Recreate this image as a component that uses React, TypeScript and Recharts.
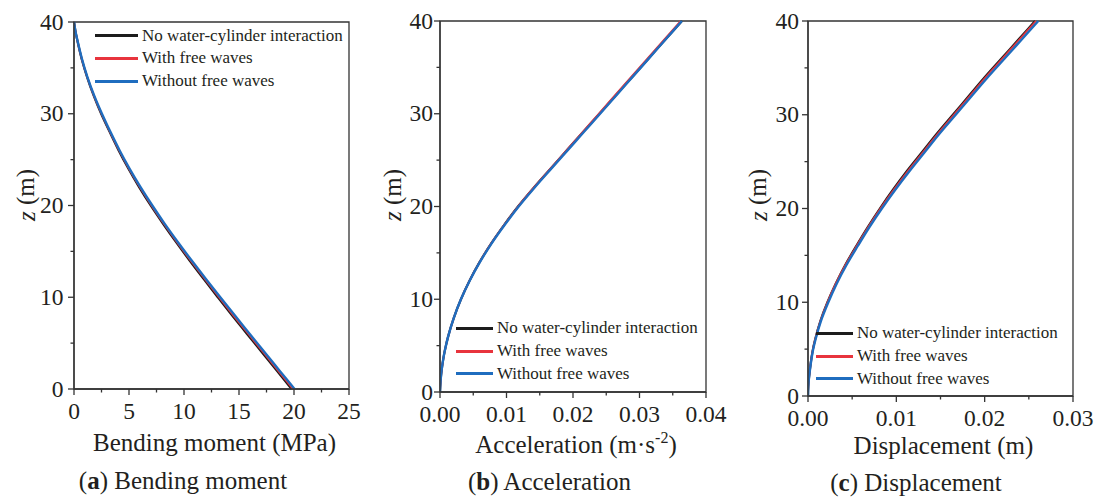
import React from 'react'
import { LineChart, Line, XAxis, YAxis, Legend, ReferenceArea } from 'recharts'

// (a) bending moment, MPa
const zMoment = [0, 2, 4, 6, 8, 10, 12, 14, 16, 18, 20, 22, 24, 26, 28, 30, 32, 34, 36, 38, 39, 40]
const momentNone = [19.78, 18.43, 17.08, 15.73, 14.38, 13.07, 11.78, 10.51, 9.28, 8.1, 6.97, 5.92, 4.95, 4.06, 3.25, 2.47, 1.78, 1.19, 0.69, 0.3, 0.13, 0]
const momentFree = [19.9, 18.55, 17.2, 15.85, 14.5, 13.18, 11.88, 10.6, 9.36, 8.17, 7.04, 5.98, 5.0, 4.1, 3.28, 2.5, 1.8, 1.2, 0.7, 0.3, 0.13, 0]
const momentNoFree = [20.05, 18.69, 17.33, 15.98, 14.63, 13.3, 11.99, 10.7, 9.45, 8.25, 7.12, 6.05, 5.06, 4.15, 3.32, 2.54, 1.83, 1.22, 0.72, 0.31, 0.13, 0]

// (b) acceleration, m/s^2
const zAcc = [0, 1, 2, 3, 4, 5, 6, 8, 10, 12, 14, 16, 18, 20, 22, 24, 26, 28, 30, 32, 34, 36, 38, 40]
const accNone = [0, 0.00007, 0.00019, 0.00037, 0.0006, 0.00089, 0.00123, 0.00208, 0.00315, 0.00444, 0.00595, 0.00768, 0.00963, 0.01173, 0.01407, 0.01653, 0.01901, 0.02149, 0.02397, 0.02645, 0.02893, 0.03141, 0.03389, 0.03637]
const accFree = [0, 0.00007, 0.00019, 0.00037, 0.0006, 0.00089, 0.00123, 0.00208, 0.00315, 0.00444, 0.00595, 0.00768, 0.00963, 0.01173, 0.01405, 0.01649, 0.01895, 0.02141, 0.02387, 0.02633, 0.02879, 0.03125, 0.03371, 0.03617]
const accNoFree = [0, 0.00007, 0.00019, 0.00037, 0.0006, 0.00089, 0.00123, 0.00208, 0.00315, 0.00446, 0.00599, 0.00774, 0.00971, 0.01183, 0.01417, 0.01663, 0.01911, 0.02159, 0.02407, 0.02653, 0.02899, 0.03145, 0.03391, 0.03637]

// (c) displacement, m
const zDisp = [0, 1, 2, 3, 4, 5, 6, 8, 10, 12, 14, 16, 18, 20, 22, 24, 26, 28, 30, 32, 34, 36, 38, 40]
const dispNone = [0, 0.00003, 0.00012, 0.00024, 0.00038, 0.00056, 0.0008, 0.0014, 0.0022, 0.00315, 0.00423, 0.00546, 0.00675, 0.00814, 0.00962, 0.0112, 0.0129, 0.0146, 0.0164, 0.0182, 0.02, 0.0219, 0.0238, 0.0257]
const dispFree = [0, 0.00003, 0.00012, 0.00024, 0.00038, 0.00056, 0.0008, 0.0014, 0.0022, 0.00315, 0.00425, 0.0055, 0.0068, 0.0082, 0.0097, 0.0113, 0.013, 0.0147, 0.0165, 0.0183, 0.0201, 0.022, 0.0239, 0.0258]
const dispNoFree = [0, 0.00003, 0.00012, 0.00025, 0.0004, 0.00059, 0.00084, 0.00146, 0.0023, 0.00326, 0.00437, 0.00563, 0.00694, 0.00836, 0.00988, 0.0115, 0.0132, 0.0149, 0.01672, 0.01853, 0.02035, 0.02226, 0.02417, 0.02607]

const zTicks = [0, 5, 10, 15, 20, 25, 30, 35, 40]
const zMajors = [0, 10, 20, 30, 40]
const momentTicks = [0, 2.5, 5, 7.5, 10, 12.5, 15, 17.5, 20, 22.5, 25]
const momentMajors = [0, 5, 10, 15, 20, 25]
const accTicks = [0, 0.005, 0.01, 0.015, 0.02, 0.025, 0.03, 0.035, 0.04]
const accMajors = [0, 0.01, 0.02, 0.03, 0.04]
const dispTicks = [0, 0.005, 0.01, 0.015, 0.02, 0.025, 0.03]
const dispMajors = [0, 0.01, 0.02, 0.03]

const SERIES = [
  { key: 'none', name: 'No water-cylinder interaction', color: '#1c1c1c', width: 2.2 },
  { key: 'free', name: 'With free waves', color: '#e8343d', width: 1.8 },
  { key: 'noFree', name: 'Without free waves', color: '#1f6dbf', width: 2.4 },
]

const FONT = "'Liberation Serif', 'Times New Roman', serif"
const INK = '#231f20'
const AXIS = '#333'
const AXIS_W = 40

const rows = (z: number[], a: number[], b: number[], c: number[]) =>
  z.map((v, i) => ({ z: v, none: a[i], free: b[i], noFree: c[i] }))

function XTick(props: any) {
  const { x, y, payload, majors, fmt } = props
  const major = majors.includes(payload.value)
  return (
    <g>
      <line x1={x} x2={x} y1={y} y2={y + (major ? 6 : 3.5)} stroke={AXIS} strokeWidth={1.3} />
      {major && (
        <text x={x} y={y + 30} textAnchor="middle" fontSize={23.5} fontFamily={FONT} fill={INK}>
          {fmt(payload.value)}
        </text>
      )}
    </g>
  )
}

function YTick(props: any) {
  const { x, y, payload, gap } = props
  const major = zMajors.includes(payload.value)
  return (
    <g>
      <line x1={x} x2={x - (major ? 6 : 3.5)} y1={y} y2={y} stroke={AXIS} strokeWidth={1.3} />
      {major && (
        <text x={x - gap} y={y + 7.5} textAnchor="end" fontSize={23.5} fontFamily={FONT} fill={INK}>
          {payload.value}
        </text>
      )}
    </g>
  )
}

function LegendBox({ sample }: { sample: number }) {
  return (
    <div style={{ fontFamily: FONT, fontSize: 17, color: INK }}>
      {SERIES.map((s) => (
        <div key={s.key} style={{ display: 'flex', alignItems: 'center', height: 22.7, whiteSpace: 'nowrap' }}>
          <div style={{ width: sample, height: 3, background: s.color }} />
          <span style={{ marginLeft: 4 }}>{s.name}</span>
        </div>
      ))}
    </div>
  )
}

interface PanelProps {
  left: number
  width: number
  data: any[]
  xDomain: [number, number]
  xTicks: number[]
  xMajors: number[]
  fmt: (v: number) => string
  margin: { top: number; right: number; bottom: number; left: number }
  yGap: number
  yLabelX: number
  title: React.ReactNode
  titleY: number
  letter: string
  caption: string
  captionY: number
  legend: { left: number; top: number; sample: number }
}

function Panel(p: PanelProps) {
  // axes take AXIS_W px each, so the margins are trimmed by the same amount
  const margin = { ...p.margin, left: p.margin.left - AXIS_W, bottom: p.margin.bottom - AXIS_W }
  return (
    <div style={{ position: 'absolute', left: p.left, top: 0 }}>
      <LineChart width={p.width} height={499} data={p.data} layout="vertical" margin={margin}>
        <ReferenceArea x1={p.xDomain[0]} x2={p.xDomain[1]} y1={0} y2={40} fill="none" stroke={AXIS} strokeWidth={1.3} ifOverflow="visible" />
        <XAxis
          type="number"
          domain={p.xDomain}
          ticks={p.xTicks}
          interval={0}
          allowDataOverflow
          height={AXIS_W}
          tickSize={0}
          tickMargin={0}
          tickLine={false}
          axisLine={{ stroke: AXIS, strokeWidth: 1.3 }}
          tick={(t: any) => <XTick {...t} majors={p.xMajors} fmt={p.fmt} />}
          label={(l: any) => {
            const vb = l.viewBox
            return (
              <g fontFamily={FONT} fill={INK}>
                <text x={vb.x + vb.width / 2 + 3} y={p.titleY} textAnchor="middle" fontSize={25}>
                  {p.title}
                </text>
                <text x={p.width / 2} y={p.captionY} textAnchor="middle" fontSize={25}>
                  (<tspan fontWeight="bold">{p.letter}</tspan>) {p.caption}
                </text>
              </g>
            )
          }}
        />
        <YAxis
          type="number"
          dataKey="z"
          domain={[0, 40]}
          ticks={zTicks}
          interval={0}
          reversed
          width={AXIS_W}
          tickSize={0}
          tickMargin={0}
          tickLine={false}
          axisLine={{ stroke: AXIS, strokeWidth: 1.3 }}
          tick={(t: any) => <YTick {...t} gap={p.yGap} />}
          label={() => (
            <text
              x={p.yLabelX}
              y={195}
              transform={`rotate(-90 ${p.yLabelX} 195)`}
              textAnchor="middle"
              dominantBaseline="central"
              fontSize={25}
              fontFamily={FONT}
              fill={INK}
            >
              <tspan fontStyle="italic">z</tspan> (m)
            </text>
          )}
        />
        {SERIES.map((s) => (
          <Line
            key={s.key}
            dataKey={s.key}
            name={s.name}
            type="monotone"
            stroke={s.color}
            strokeWidth={s.width}
            dot={false}
            isAnimationActive={false}
          />
        ))}
        <Legend
          layout="horizontal"
          align="center"
          verticalAlign="middle"
          wrapperStyle={{ left: p.legend.left, top: p.legend.top, width: 270 }}
          content={() => <LegendBox sample={p.legend.sample} />}
        />
      </LineChart>
    </div>
  )
}

export default function App() {
  return (
    <div style={{ position: 'absolute', left: 0, top: 0, width: 1099, height: 499, background: '#fff' }}>
      <Panel
        left={0}
        width={366}
        data={rows(zMoment, momentNone, momentFree, momentNoFree)}
        xDomain={[0, 25]}
        xTicks={momentTicks}
        xMajors={momentMajors}
        fmt={(v) => String(v)}
        margin={{ top: 22, right: 17, bottom: 110, left: 74 }}
        yGap={10.5}
        yLabelX={25.5}
        title="Bending moment (MPa)"
        titleY={450.7}
        letter="a"
        caption="Bending moment"
        captionY={489.3}
        legend={{ left: 95, top: 24.3, sample: 43 }}
      />
      <Panel
        left={366}
        width={367}
        data={rows(zAcc, accNone, accFree, accNoFree)}
        xDomain={[0, 0.04]}
        xTicks={accTicks}
        xMajors={accMajors}
        fmt={(v) => v.toFixed(2)}
        margin={{ top: 21, right: 27, bottom: 107, left: 74 }}
        yGap={7}
        yLabelX={26}
        title={
          <>
            Acceleration (m·s<tspan dy={-10} fontSize={16}>-2</tspan>
            <tspan dy={10}>)</tspan>
          </>
        }
        titleY={453.3}
        letter="b"
        caption="Acceleration"
        captionY={490}
        legend={{ left: 90, top: 317, sample: 37 }}
      />
      <Panel
        left={733}
        width={366}
        data={rows(zDisp, dispNone, dispFree, dispNoFree)}
        xDomain={[0, 0.03]}
        xTicks={dispTicks}
        xMajors={dispMajors}
        fmt={(v) => v.toFixed(2)}
        margin={{ top: 21, right: 26, bottom: 103, left: 75 }}
        yGap={9}
        yLabelX={24.5}
        title="Displacement (m)"
        titleY={454}
        letter="c"
        caption="Displacement"
        captionY={491}
        legend={{ left: 83, top: 322, sample: 37 }}
      />
    </div>
  )
}
